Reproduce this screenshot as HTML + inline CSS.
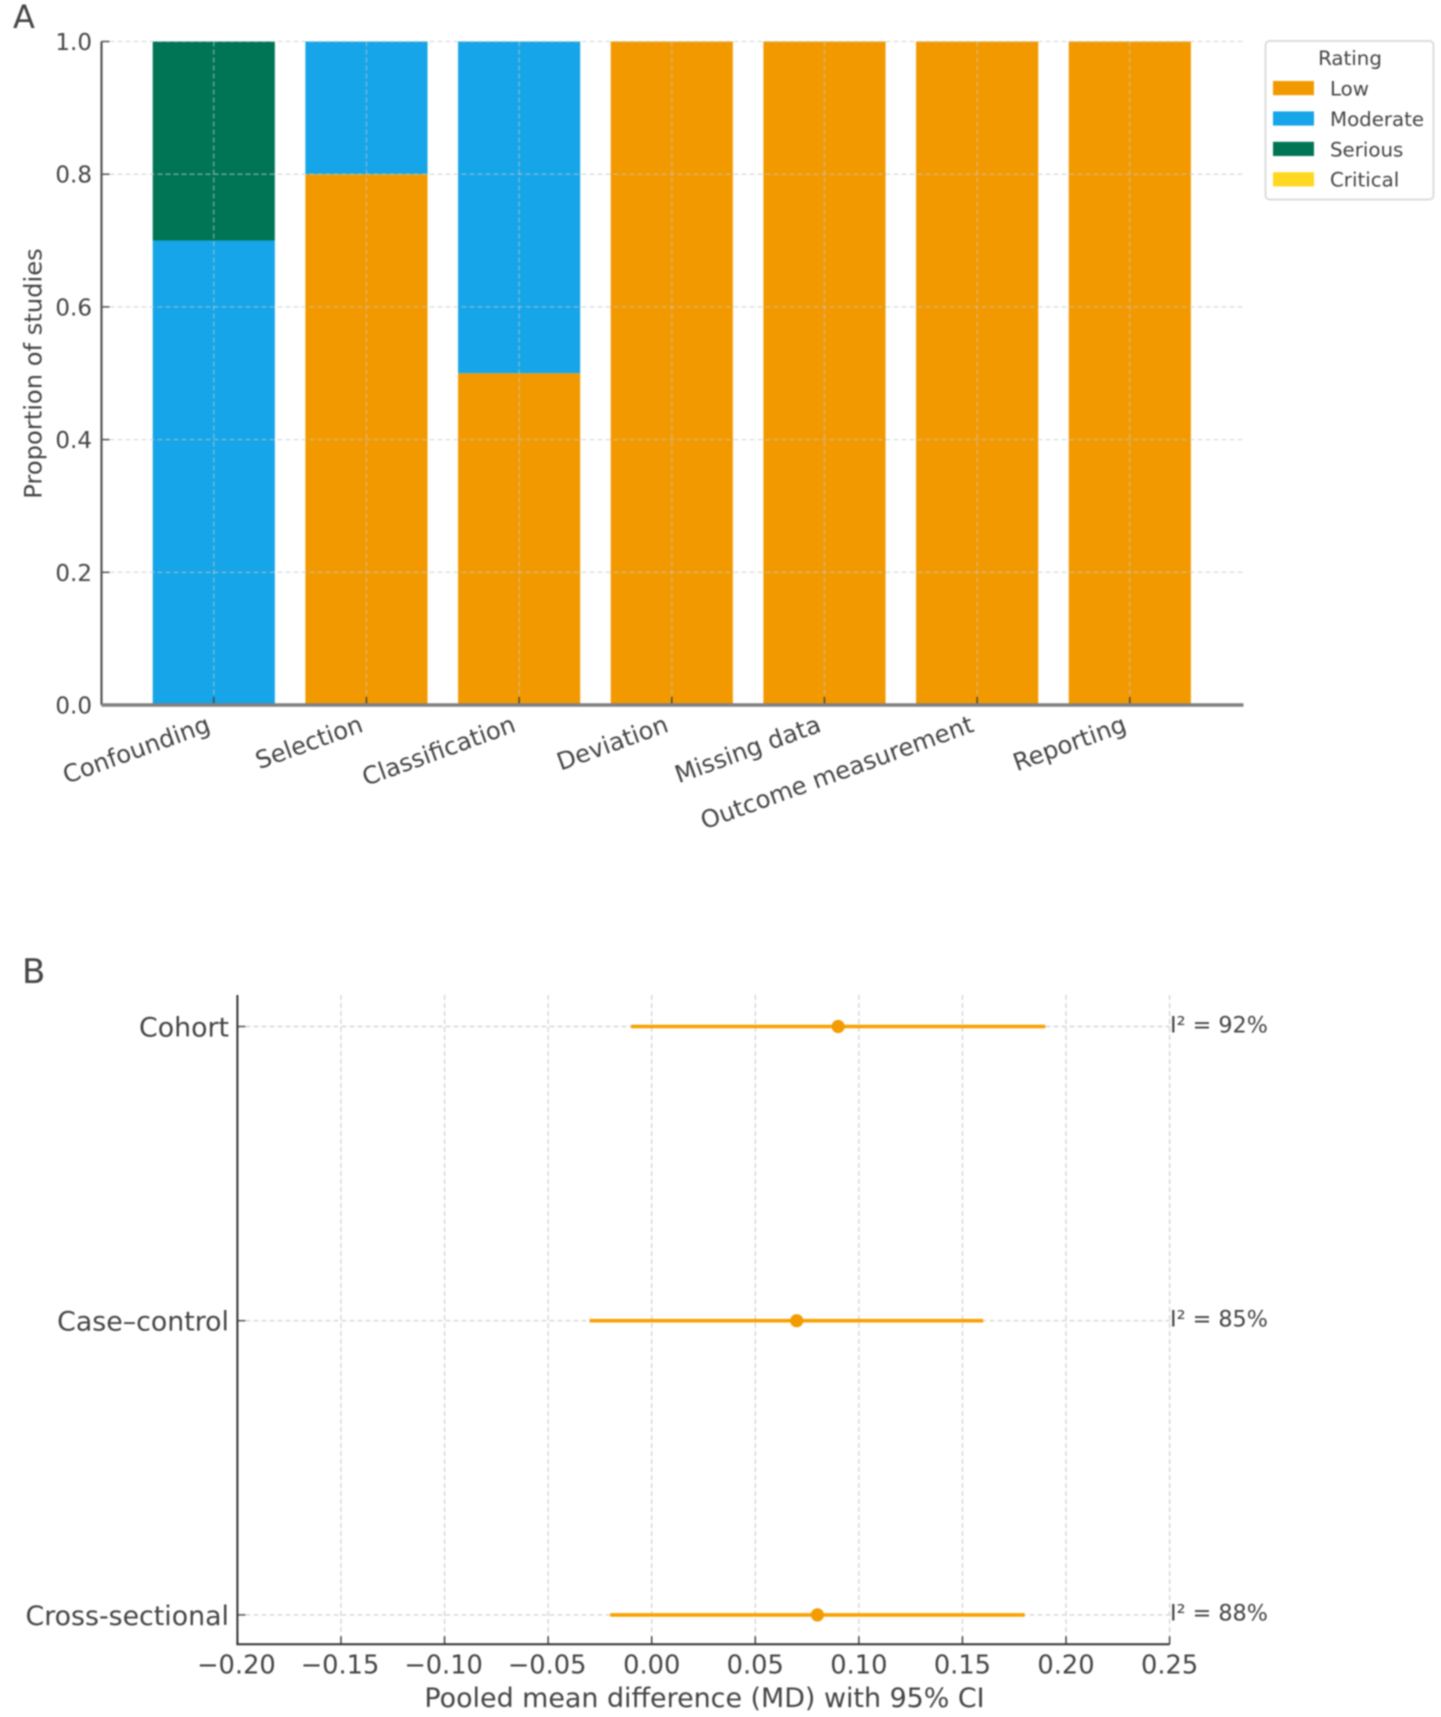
<!DOCTYPE html>
<html lang="en">
<head>
<meta charset="utf-8">
<title>Risk of bias and pooled mean difference</title>
<style>
  html, body { margin: 0; padding: 0; background: #ffffff; }
  #figure { display: block; width: 1441px; height: 1717px; filter: blur(0.8px); }
  text { font-family: "DejaVu Sans", "Liberation Sans", sans-serif; fill: #444444; }
</style>
</head>
<body>
<svg id="figure" xmlns="http://www.w3.org/2000/svg" width="1441" height="1717" viewBox="0 0 1441 1717">
  <rect x="0" y="0" width="1441" height="1717" fill="#ffffff"></rect>
  <g id="panel-a"></g>
  <g id="panel-b"></g>
</svg>
<script>
// Panel A data
const domains = ['Confounding', 'Selection', 'Classification', 'Deviation', 'Missing data', 'Outcome measurement', 'Reporting'];
const lowValues = [0, 0.8, 0.5, 1, 1, 1, 1];
const moderateValues = [0.7, 0.2, 0.5, 0, 0, 0, 0];
const seriousValues = [0.3, 0, 0, 0, 0, 0, 0];
const criticalValues = [0, 0, 0, 0, 0, 0, 0];
const ratingNames = ['Low', 'Moderate', 'Serious', 'Critical'];
const proportionTicks = [0, 0.2, 0.4, 0.6, 0.8, 1];

// Panel B data
const designs = ['Cohort', 'Case\u2013control', 'Cross-sectional'];
const pooledMd = [0.09, 0.07, 0.08];
const ciLower = [-0.01, -0.03, -0.02];
const ciUpper = [0.19, 0.16, 0.18];
const i2Values = [92, 85, 88];
const mdTicks = [-0.2, -0.15, -0.1, -0.05, 0, 0.05, 0.1, 0.15, 0.2, 0.25];

const ratingColors = ['#f29900', '#16a5e8', '#007556', '#ffd81f'];
const SVG_NS = 'http://www.w3.org/2000/svg';
const panelA = document.getElementById('panel-a');
const panelB = document.getElementById('panel-b');

function mk(parent, tag, props, content) {
  const node = document.createElementNS(SVG_NS, tag);
  for (const key in props) node.setAttribute(key, props[key]);
  if (content !== undefined) node.textContent = content;
  parent.appendChild(node);
  return node;
}

// Axis functions, panel A
const aLeft = 101.5, aRight = 1243.5, aTop = 41.5, aBottom = 705;
const xA = function (i) { return aLeft - 0.7 + (i + 0.74) / 7.48 * (aRight - aLeft); };
const yA = function (v) { return aBottom - v * (aBottom - aTop); };
const bandA = (aRight - aLeft) / 7.48;

// Axis functions, panel B
const bLeft = 237.4, bRight = 1169.6, bTop = 995, bBottom = 1644.3;
const xB = function (v) { return bLeft + (v + 0.2) / 0.45 * (bRight - bLeft); };
const yB = function (i) { return 1026.5 + i * 294.2; };

// ---- Panel A ----
let el;
el = mk(panelA, 'text', { x: 13, y: 28, 'font-size': 32 }, 'A');



const stackSeries = [lowValues, moderateValues, seriousValues, criticalValues];
domains.forEach(function (name, i) {
  let base = 0;
  stackSeries.forEach(function (series, s) {
    const v = series[i];
    if (v > 0) {
      const seg = mk(panelA, 'rect', {
        x: xA(i) - 0.4 * bandA,
        y: yA(base + v),
        width: 0.8 * bandA,
        height: yA(base) - yA(base + v),
        fill: ratingColors[s]
      });
      
      
    }
    base += v;
  });
});

// Gridlines over the bars
proportionTicks.forEach(function (t) {
  const g = mk(panelA, 'line', { x1: aLeft, x2: aRight, y1: yA(t), y2: yA(t), stroke: 'rgba(195,200,200,0.6)', 'stroke-width': 1.3, 'stroke-dasharray': '5 3' });
  
  
  const tick = mk(panelA, 'line', { x1: aLeft, x2: aLeft + 8, y1: yA(t), y2: yA(t), stroke: '#555555', 'stroke-width': 1.5 });
  
  
  const label = mk(panelA, 'text', { x: 92, y: yA(t) + 8.5, 'font-size': 23, 'text-anchor': 'end' }, t.toFixed(1));
  
  
});

domains.forEach(function (name, i) {
  const g = mk(panelA, 'line', { x1: xA(i), x2: xA(i), y1: aTop, y2: aBottom, stroke: 'rgba(195,200,200,0.6)', 'stroke-width': 1.3, 'stroke-dasharray': '5 3' });
  
  
  const tick = mk(panelA, 'line', { x1: xA(i), x2: xA(i), y1: aBottom - 8, y2: aBottom, stroke: '#444444', 'stroke-width': 1.5 });
  
  
  const label = mk(panelA, 'text', { 'font-size': 24.3, 'text-anchor': 'end', transform: 'translate(' + (xA(i) - 2) + ' 731) rotate(-20)' }, name);
  
  
});

el = mk(panelA, 'line', { x1: aLeft, x2: aLeft, y1: aTop, y2: aBottom, stroke: '#555555', 'stroke-width': 2.2 });


el = mk(panelA, 'line', { x1: aLeft, x2: aRight, y1: aBottom, y2: aBottom, stroke: '#808080', 'stroke-width': 3.4 });


el = mk(panelA, 'text', { 'font-size': 24.2, 'text-anchor': 'middle', transform: 'translate(41.5 373.5) rotate(-90)' }, 'Proportion of studies');



// Legend
const legend = mk(panelA, 'g', {});


el = mk(legend, 'rect', { x: 1265.5, y: 41, width: 168, height: 158.5, rx: 4, fill: '#ffffff', stroke: '#dddddd', 'stroke-width': 2 });


el = mk(legend, 'text', { x: 1350, y: 65, 'font-size': 19.8, 'text-anchor': 'middle' }, 'Rating');


ratingNames.forEach(function (name, i) {
  const rowTop = 81 + i * 30.4;
  const swatch = mk(legend, 'rect', { x: 1273, y: rowTop, width: 41, height: 14.2, fill: ratingColors[i] });
  
  
  const label = mk(legend, 'text', { x: 1330, y: rowTop + 14.5, 'font-size': 19.8 }, name);
  
  
});

// ---- Panel B ----
el = mk(panelB, 'text', { x: 22, y: 983, 'font-size': 34 }, 'B');



mdTicks.forEach(function (t) {
  const g = mk(panelB, 'line', { x1: xB(t), x2: xB(t), y1: bTop, y2: bBottom, stroke: '#d6d6d6', 'stroke-width': 1.4, 'stroke-dasharray': '5 3' });
  
  
  const tick = mk(panelB, 'line', { x1: xB(t), x2: xB(t), y1: bBottom - 8, y2: bBottom, stroke: '#444444', 'stroke-width': 1.5 });
  
  
  const text = (t < 0 ? '\u2212' : '') + Math.abs(t).toFixed(2);
  const label = mk(panelB, 'text', { x: xB(t) - (t < 0 ? 1 : 0), y: 1673.5, 'font-size': 25.7, 'text-anchor': 'middle' }, text);
  
  
});

designs.forEach(function (name, i) {
  const y = yB(i);
  const g = mk(panelB, 'line', { x1: bLeft, x2: bRight, y1: y, y2: y, stroke: '#d6d6d6', 'stroke-width': 1.4, 'stroke-dasharray': '5 3' });
  
  
  const tick = mk(panelB, 'line', { x1: bLeft, x2: bLeft + 8, y1: y, y2: y, stroke: '#555555', 'stroke-width': 1.5 });
  
  
  const label = mk(panelB, 'text', { x: 229, y: y + 10, 'font-size': 26.8, 'text-anchor': 'end' }, name);
  
  
  const ci = mk(panelB, 'line', { x1: xB(ciLower[i]), x2: xB(ciUpper[i]), y1: y, y2: y, stroke: '#f9a000', 'stroke-width': 3.6 });
  
  
  const point = mk(panelB, 'circle', { cx: xB(pooledMd[i]), cy: y, r: 6.6, fill: '#f39c00' });
  
  
  const i2 = mk(panelB, 'text', { x: 1170, y: y + 5.8, 'font-size': 22.3, fill: '#555555' }, 'I\u00b2 = ' + i2Values[i] + '%');
  
  
});

el = mk(panelB, 'line', { x1: bLeft, x2: bLeft, y1: bTop, y2: bBottom, stroke: '#333333', 'stroke-width': 2 });


el = mk(panelB, 'line', { x1: bLeft - 1, x2: bRight, y1: bBottom, y2: bBottom, stroke: '#333333', 'stroke-width': 2 });


el = mk(panelB, 'text', { x: 704.5, y: 1707, 'font-size': 26.9, 'text-anchor': 'middle' }, 'Pooled mean difference (MD) with 95% CI');


</script>
</body>
</html>
